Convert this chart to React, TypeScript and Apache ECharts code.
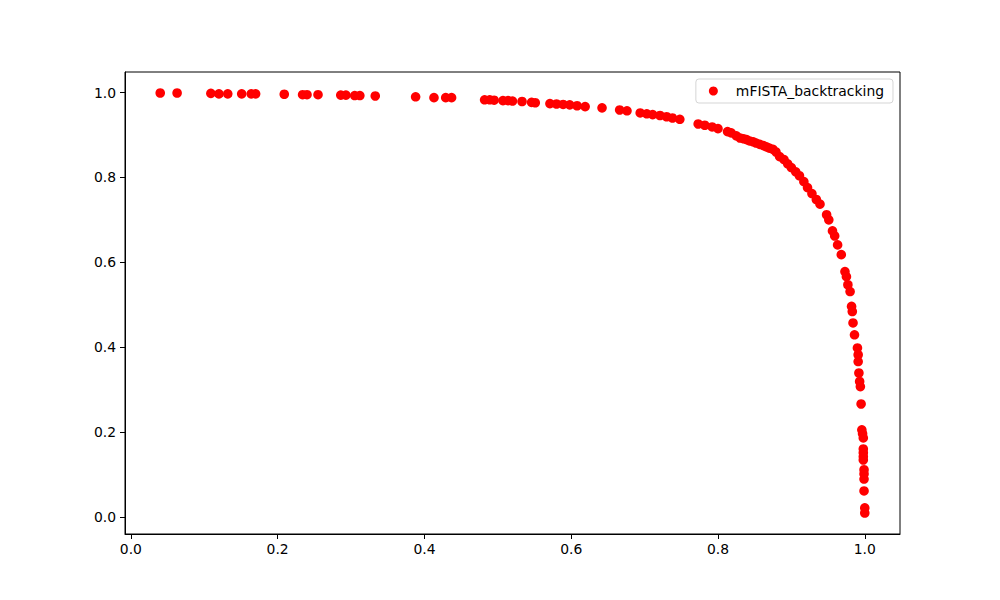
import React, { useEffect, useRef } from "react";
import * as echarts from "echarts";

const SERIES_NAME = "mFISTA_backtracking";

const xValues = [
  0.040, 0.063, 0.109, 0.120, 0.132, 0.151, 0.164, 0.170, 0.209, 0.234,
  0.240, 0.255, 0.286, 0.293, 0.305, 0.312, 0.333, 0.388, 0.413, 0.429,
  0.437, 0.482, 0.489, 0.495, 0.507, 0.514, 0.520, 0.533, 0.546, 0.551,
  0.571, 0.580, 0.589, 0.598, 0.608, 0.619, 0.642, 0.666, 0.676, 0.694,
  0.703, 0.711, 0.721, 0.730, 0.738, 0.748, 0.773, 0.782, 0.792, 0.800,
  0.813, 0.818, 0.825, 0.830, 0.835, 0.839, 0.843, 0.848, 0.852, 0.857,
  0.862, 0.866, 0.870, 0.875, 0.879, 0.884, 0.890, 0.895, 0.900, 0.906,
  0.911, 0.917, 0.922, 0.928, 0.934, 0.939, 0.948, 0.951, 0.956, 0.959,
  0.963, 0.968, 0.973, 0.975, 0.977, 0.980, 0.982, 0.983, 0.984, 0.986,
  0.990, 0.991, 0.991, 0.992, 0.993, 0.994, 0.995, 0.996, 0.997, 0.998,
  0.998, 0.998, 0.998, 0.998, 0.999, 0.999, 0.999, 0.999, 1.000, 1.000,
];

const yValues = [
  0.999, 0.999, 0.998, 0.997, 0.997, 0.997, 0.997, 0.997, 0.996, 0.995,
  0.995, 0.995, 0.994, 0.994, 0.993, 0.993, 0.992, 0.990, 0.988, 0.988,
  0.988, 0.983, 0.983, 0.982, 0.981, 0.981, 0.980, 0.979, 0.977, 0.976,
  0.974, 0.973, 0.972, 0.971, 0.969, 0.967, 0.964, 0.959, 0.957, 0.952,
  0.950, 0.948, 0.946, 0.943, 0.940, 0.937, 0.926, 0.923, 0.919, 0.915,
  0.908, 0.905, 0.898, 0.893, 0.891, 0.889, 0.886, 0.884, 0.881, 0.878,
  0.875, 0.872, 0.869, 0.866, 0.860, 0.849, 0.842, 0.832, 0.823, 0.813,
  0.804, 0.790, 0.776, 0.762, 0.748, 0.737, 0.712, 0.700, 0.674, 0.662,
  0.641, 0.618, 0.578, 0.566, 0.547, 0.531, 0.496, 0.484, 0.457, 0.429,
  0.398, 0.382, 0.366, 0.339, 0.319, 0.307, 0.266, 0.205, 0.196, 0.186,
  0.160, 0.151, 0.142, 0.134, 0.111, 0.101, 0.089, 0.061, 0.021, 0.009,
];

const xTicks = [0.0, 0.2, 0.4, 0.6, 0.8, 1.0];
const yTicks = [0.0, 0.2, 0.4, 0.6, 0.8, 1.0];

const FONT = "DejaVu Sans";

function paddedRange(vals: number[]): [number, number] {
  const lo = Math.min(...vals);
  const hi = Math.max(...vals);
  const m = (hi - lo) * 0.05;
  return [lo - m, hi + m];
}

export default function App() {
  const ref = useRef<HTMLDivElement>(null);

  useEffect(() => {
    if (!ref.current) return;
    const chart = echarts.init(ref.current, null, { renderer: "svg" });
    const [xmin, xmax] = paddedRange(xValues);
    const [ymin, ymax] = paddedRange(yValues);
    const data = xValues.map((x, i) => [x, yValues[i]]);

    const axisCommon = {
      type: "value" as const,
      splitLine: { show: false },
      axisLine: { show: true, onZero: false, lineStyle: { color: "#000", width: 1 } },
    };

    chart.setOption({
      animation: false,
      backgroundColor: "#fff",
      grid: {
        left: 125,
        top: 72,
        width: 775,
        height: 462,
        show: true,
        borderColor: "#000",
        borderWidth: 1,
        backgroundColor: "transparent",
      },
      legend: {
        show: true,
        data: [{ name: SERIES_NAME, icon: "circle" }],
        right: 107,
        top: 79,
        orient: "vertical",
        itemWidth: 9,
        itemHeight: 9,
        padding: [4, 9, 4, 13],
        borderColor: "#d5d5d5",
        borderWidth: 1,
        borderRadius: 3,
        backgroundColor: "rgba(255,255,255,0.8)",
        textStyle: {
          fontFamily: FONT,
          fontSize: 13.9,
          color: "#000",
          padding: [0, 0, 0, 13],
          lineHeight: 16,
        },
      },
      xAxis: {
        ...axisCommon,
        min: xmin,
        max: xmax,
        axisTick: {
          show: true,
          length: 5,
          lineStyle: { color: "#000", width: 1 },
          customValues: xTicks,
        },
        axisLabel: {
          show: true,
          customValues: xTicks,
          margin: 8,
          fontFamily: FONT,
          fontSize: 13.9,
          color: "#000",
          formatter: (v: number) => v.toFixed(1),
        },
      },
      yAxis: {
        ...axisCommon,
        min: ymin,
        max: ymax,
        axisTick: {
          show: true,
          length: 5,
          lineStyle: { color: "#000", width: 1 },
          customValues: yTicks,
        },
        axisLabel: {
          show: true,
          customValues: yTicks,
          margin: 9,
          fontFamily: FONT,
          fontSize: 13.9,
          color: "#000",
          formatter: (v: number) => v.toFixed(1),
        },
      },
      series: [
        {
          name: SERIES_NAME,
          type: "scatter",
          data,
          symbol: "circle",
          symbolSize: 9.6,
          itemStyle: { color: "#ff0000", opacity: 1 },
        },
      ],
    });

    return () => {
      chart.dispose();
    };
  }, []);

  return (
    <div
      ref={ref}
      style={{ width: 1000, height: 600, position: "absolute", left: 0, top: 0 }}
    />
  );
}
